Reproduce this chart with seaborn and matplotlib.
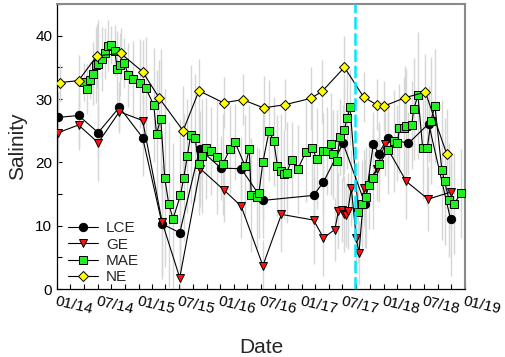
import numpy as np
import pandas as pd
import seaborn as sns
import matplotlib.pyplot as plt
import matplotlib.dates as mdates
from matplotlib.ticker import MultipleLocator

# salinity per estuary
lce_dates = ['2014-01-07', '2014-04-07', '2014-07-04', '2014-10-07', '2015-01-19', '2015-04-16',
             '2015-07-04', '2015-10-01', '2016-01-04', '2016-04-04', '2016-07-10', '2017-02-22',
             '2017-04-07', '2017-07-04', '2017-10-10', '2017-11-16', '2017-12-10', '2018-01-19',
             '2018-04-22', '2018-07-22', '2018-10-28']
lce_sal = [27.1, 27.4, 24.7, 28.7, 23.9, 10.3, 8.9, 22.1, 19.1, 19.0, 14.0, 14.8,
           16.9, 23.0, 13.5, 22.9, 21.4, 23.8, 23.0, 26.1, 11.0]
lce_err = [4, 5, 4, 4, 6, 8, 7, 6, 5, 5, 6, 5, 5, 6, 7, 5, 5, 4, 5, 6, 9]

ge_dates = ['2014-01-07', '2014-04-07', '2014-07-04', '2014-10-07', '2015-01-19', '2015-04-16',
            '2015-07-04', '2015-10-04', '2016-01-19', '2016-04-04', '2016-07-10', '2016-10-01',
            '2017-02-22', '2017-04-07', '2017-05-28', '2017-06-13', '2017-06-28', '2017-07-10',
            '2017-07-19', '2017-07-25', '2017-08-10', '2017-09-01', '2017-09-13', '2017-10-07',
            '2017-12-01', '2018-01-07', '2018-04-13', '2018-07-19', '2018-10-28']
ge_sal = [24.7, 25.9, 23.1, 28.0, 26.6, 10.6, 1.8, 19.0, 15.6, 13.1, 3.7, 11.8,
          10.9, 8.1, 9.4, 12.3, 12.5, 11.8, 11.7, 12.3, 15.9, 8.0, 5.7, 15.9,
          18.9, 22.9, 17.0, 14.2, 15.3]
ge_err = [5, 4, 6, 3, 4, 9, 5, 6, 5, 5, 4, 6, 7, 6, 5, 6, 5, 6, 5, 6, 6, 5, 5, 6,
          5, 5, 6, 5, 6]

mae_dates = ['2014-05-01', '2014-05-13', '2014-05-28', '2014-06-10', '2014-06-22', '2014-07-04',
             '2014-07-22', '2014-08-04', '2014-08-16', '2014-09-01', '2014-09-16', '2014-09-28',
             '2014-10-10', '2014-10-28', '2014-11-16', '2014-12-07', '2015-01-07', '2015-02-01',
             '2015-03-10', '2015-03-22', '2015-04-10', '2015-04-28', '2015-05-16', '2015-06-04',
             '2015-07-07', '2015-07-22', '2015-08-07', '2015-08-22', '2015-09-10', '2015-09-28',
             '2015-10-13', '2015-10-28', '2015-11-19', '2015-12-16', '2016-01-13', '2016-02-13',
             '2016-03-07', '2016-04-22', '2016-05-10', '2016-05-19', '2016-06-13', '2016-06-22',
             '2016-07-10', '2016-08-07', '2016-08-28', '2016-09-13', '2016-09-28', '2016-10-13',
             '2016-10-25', '2016-11-16', '2016-12-13', '2017-01-19', '2017-02-16', '2017-03-07',
             '2017-04-04', '2017-04-22', '2017-05-10', '2017-05-22', '2017-06-07', '2017-06-19',
             '2017-07-10', '2017-07-22', '2017-08-04', '2017-09-10', '2017-09-28', '2017-10-13',
             '2017-10-28', '2017-11-13', '2017-12-13', '2018-01-22', '2018-02-19', '2018-03-04',
             '2018-03-13', '2018-04-01', '2018-04-13', '2018-05-07', '2018-05-16', '2018-06-04',
             '2018-06-25', '2018-07-16', '2018-08-01', '2018-08-19', '2018-09-19', '2018-10-01',
             '2018-10-22', '2018-11-13', '2018-12-13']
mae_sal = [32.7, 31.6, 33.0, 34.0, 35.4, 35.5, 36.3, 37.2, 38.4, 38.5, 37.6, 34.7,
           35.4, 35.7, 33.8, 33.2, 32.5, 31.8, 29.0, 24.5, 26.9, 17.5, 13.4, 11.1,
           14.8, 17.6, 21.0, 24.4, 23.9, 19.7, 21.0, 22.2, 21.8, 20.9, 19.7, 22.1,
           23.2, 19.4, 22.1, 14.8, 14.5, 15.1, 20.0, 25.0, 23.3, 19.5, 18.6, 18.1,
           18.4, 20.4, 18.9, 21.7, 22.3, 20.6, 21.8, 21.8, 22.9, 21.3, 20.2, 24.0,
           25.1, 27.0, 28.7, 12.2, 13.4, 14.5, 16.5, 17.5, 19.7, 22.0, 23.4, 23.0,
           25.4, 25.5, 25.8, 25.9, 28.4, 30.6, 22.3, 22.3, 26.6, 28.9, 18.8, 17.0,
           14.0, 13.5, 15.1]
mae_err = [3, 4, 3, 5, 6, 7, 5, 4, 4, 3, 4, 6, 5, 4, 5, 6, 7, 8, 9, 10, 11, 14, 13, 12,
           12, 10, 9, 11, 10, 8, 9, 8, 7, 9, 8, 7, 6, 8, 7, 9, 8, 7, 9, 8, 7, 8, 9, 7,
           8, 6, 7, 8, 7, 8, 6, 7, 8, 7, 8, 6, 7, 8, 6, 8, 7, 8, 7, 8, 6, 7, 8, 6,
           7, 8, 9, 7, 8, 10, 8, 9, 10, 9, 11, 10, 9, 8, 7]

ne_dates = ['2014-01-14', '2014-04-07', '2014-06-28', '2014-10-13', '2015-01-19', '2015-04-04',
            '2015-07-19', '2015-09-28', '2016-01-16', '2016-04-10', '2016-07-13', '2016-10-16',
            '2017-02-10', '2017-04-01', '2017-07-10', '2017-10-04', '2017-12-01', '2018-01-04',
            '2018-04-07', '2018-07-07', '2018-10-10']
ne_sal = [32.6, 32.9, 36.8, 37.2, 34.3, 30.1, 25.0, 31.3, 29.4, 29.9, 28.6, 29.1,
          30.1, 31.2, 35.0, 30.3, 29.1, 28.9, 30.2, 31.1, 21.4]
ne_err = [3, 4, 5, 4, 5, 6, 7, 5, 4, 4, 5, 4, 5, 5, 5, 4, 4, 4, 5, 6, 7]

harvey = '2017-08-25'

series = [
    ('LCE', lce_dates, lce_sal, lce_err, 'o', 'black'),
    ('GE', ge_dates, ge_sal, ge_err, 'v', '#ff1010'),
    ('MAE', mae_dates, mae_sal, mae_err, 's', '#22ee22'),
    ('NE', ne_dates, ne_sal, ne_err, 'D', '#ffff00'),
]

sns.set_style('ticks')
plt.rcParams['font.family'] = ['Liberation Sans', 'DejaVu Sans']

fig = plt.figure(figsize=(5.05, 3.57), dpi=100)
ax = fig.add_axes([0.113, 0.19, 0.808, 0.799])

# gray range bars first so they sit underneath
for name, d, s, e, m, c in series:
    ax.vlines(pd.to_datetime(d), np.array(s) - np.array(e), np.array(s) + np.array(e),
              color='#d6d6d6', lw=1.0, zorder=1)

msizes = {'o': 6, 'v': 6, 's': 5.5, 'D': 5.5}
for name, d, s, e, m, c in series:
    df = pd.DataFrame({'date': pd.to_datetime(d), 'sal': s})
    sns.lineplot(data=df, x='date', y='sal', ax=ax, color='black', lw=0.8,
                 marker=m, markersize=msizes[m], markerfacecolor=c,
                 markeredgecolor='black', markeredgewidth=0.7, label=name, zorder=3)

ax.axvline(pd.to_datetime(harvey), color='#00e8ff', lw=1.8, ls=(0, (5, 1.5)), zorder=4)

ax.set_xlim(pd.to_datetime('2014-01-01'), pd.to_datetime('2019-01-01'))
ax.set_ylim(0, 45)
ax.yaxis.set_major_locator(MultipleLocator(10))
ax.yaxis.set_minor_locator(MultipleLocator(5))
ax.xaxis.set_major_locator(mdates.MonthLocator(bymonth=[1, 7]))
ax.xaxis.set_minor_locator(mdates.MonthLocator(bymonth=[3, 5, 9, 11]))
ax.xaxis.set_major_formatter(mdates.DateFormatter('%m/%y'))
ax.tick_params(which='both', direction='in', length=3.5, width=0.8, colors='black')
ax.tick_params(axis='y', labelsize=11)
ax.tick_params(axis='x', labelsize=11)
for lab in ax.get_xticklabels():
    lab.set_rotation(-13)
    lab.set_rotation_mode('anchor')
    lab.set_ha('left')
    lab.set_va('top')

for side in ['top', 'right']:
    ax.spines[side].set_color('#8a8a8a')
    ax.spines[side].set_linewidth(1.5)
for side in ['left', 'bottom']:
    ax.spines[side].set_color('black')
    ax.spines[side].set_linewidth(0.9)

ax.set_xlabel('Date', fontsize=15, labelpad=16)
ax.set_ylabel('Salinity', fontsize=15, labelpad=6)

leg = ax.legend(loc='lower left', frameon=False, fontsize=11, handlelength=2.0,
                handletextpad=0.5, labelspacing=0.15, borderaxespad=0.3,
                bbox_to_anchor=(0.0, -0.02))

fig.savefig('out.png', dpi=100)
